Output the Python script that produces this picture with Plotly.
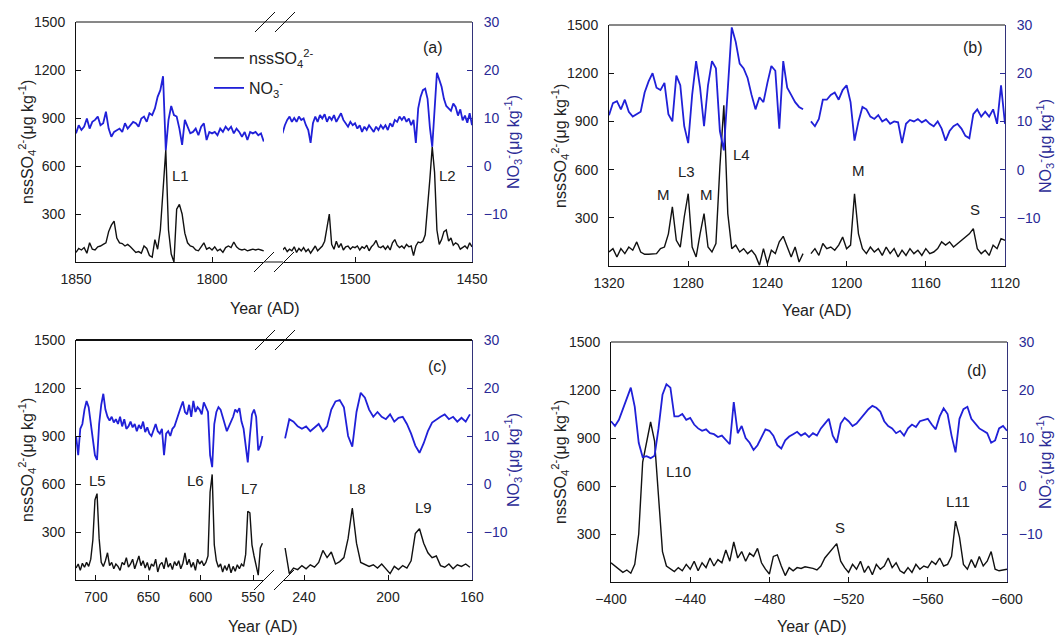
import plotly.graph_objects as go

W, H = 1060, 636
def px(x): return x / W
def py(y): return 1 - y / H

# ---------------- data ----------------
# Panel (a) left segment: 1850 -> 1781 AD, yearly
a1_years = list(range(1850, 1780, -1))
a1_so4 = [60, 85, 75, 90, 55, 120, 80, 75, 95, 100,
          110, 120, 190, 230, 255, 150, 120, 115, 100, 110,
          95, 80, 60, 65, 55, 100, 85, 40, 30, 140,
          80, 200, 450, 700, 200, 50, 0, 330, 360, 300,
          180, 120, 100, 95, 75, 70, 95, 120, 80, 90,
          75, 95, 70, 80, 60, 90, 100, 90, 125, 95,
          80, 75, 80, 70, 75, 80, 75, 80, 75, 70]
a1_no3 = [6.8, 8.5, 7.5, 8.2, 9.9, 7.8, 9.2, 9.6, 10.3, 8.5,
          8.9, 11.3, 7.8, 6.1, 7.1, 7.5, 7.8, 7.1, 8.9, 7.8,
          8.5, 9.2, 8.9, 8.2, 9.9, 10.3, 9.2, 11.0, 10.6, 12.0,
          14.4, 15.8, 18.7, 3.3, 9.6, 12.5, 10.6, 10.3, 7.8, 4.4,
          9.6, 8.2, 6.8, 7.1, 7.8, 6.4, 8.2, 8.9, 5.4, 7.1,
          6.8, 7.1, 6.4, 7.8, 7.1, 8.2, 7.5, 8.2, 6.8, 7.8,
          7.1, 6.1, 7.1, 5.4, 7.1, 6.8, 7.1, 6.4, 6.8, 5.1]

# Panel (a) right segment: 1531 -> 1450 AD, yearly
a2_years = list(range(1531, 1449, -1))
a2_so4 = [75, 90, 65, 80, 70, 95, 60, 85, 70, 90,
          65, 80, 55, 75, 100, 70, 85, 100, 130, 230,
          300, 110, 80, 130, 90, 115, 75, 95, 100, 80,
          95, 90, 100, 75, 95, 85, 105, 70, 95, 110,
          135, 95, 90, 100, 80, 100, 75, 120, 140, 105,
          90, 100, 85, 110, 95, 100, 40, 100, 125, 120,
          130, 170, 330, 520, 720, 560, 200, 110, 140, 190,
          200, 130, 150, 105, 120, 110, 80, 90, 100, 85,
          120, 95]
a2_no3 = [6.8, 8.5, 9.6, 10.3, 9.2, 10.0, 9.2, 10.3, 9.6, 9.9,
          8.5, 7.5, 4.8, 8.9, 10.3, 9.2, 10.6, 9.9, 10.8, 9.2,
          10.3, 9.6, 10.6, 9.2, 10.1, 11.0, 9.6, 8.9, 8.2, 9.2,
          8.5, 8.9, 7.8, 8.5, 7.1, 8.2, 7.5, 8.5, 7.8, 7.1,
          8.2, 7.5, 8.5, 7.8, 8.5, 7.5, 8.9, 8.2, 9.6, 9.2,
          10.3, 9.6, 10.3, 9.2, 9.9, 8.5, 9.6, 4.8, 12.0, 14.4,
          15.8, 16.1, 14.0, 8.0, 4.0, 13.0, 19.4, 18.0, 16.5, 14.0,
          12.5, 12.0, 11.5, 13.0, 12.3, 10.5, 11.8, 9.5, 10.5, 9.0,
          11.0, 8.5]

# Panel (b): 1320 -> 1120 AD, every 2 years
b_years = list(range(1320, 1119, -2))
b_so4 = [87, 108, 56, 108, 77, 118, 98, 150, 87, 73,
         73, 73, 77, 108, 118, 200, 368, 160, 118, 305,
         450, 118, 56, 200, 326, 118, 87, 140, 617, 1000,
         326, 108, 130, 87, 108, 77, 98, 66, 5, 108,
         15, 98, 77, 150, 185, 120, 56, 118, 25, 77,
         None, 77, 108, 66, 140, 108, 118, 98, 130, 180,
         108, 130, 450, 200, 108, 77, 118, 87, 108, 66,
         118, 77, 108, 56, 98, 66, 108, 77, 98, 66,
         108, 77, 87, 108, 150, 130, 150, 118, 140, 160,
         180, 200, 233, 108, 77, 98, 66, 130, 108, 170,
         160]
b_no3 = [11.3, 13.8, 14.2, 12.5, 14.5, 12.0, 11.0, 11.5, 12.0, 16.0,
         18.3, 20.0, 17.0, 16.5, 18.0, 11.5, 10.0, 19.5, 17.5, 9.0,
         5.5, 15.5, 22.5, 17.0, 9.0, 17.5, 22.5, 21.0, 8.0, 4.0,
         17.0, 29.5, 26.5, 22.0, 21.0, 19.0, 15.5, 12.5, 15.0, 14.0,
         18.0, 21.5, 20.5, 8.5, 22.5, 17.0, 15.5, 14.0, 13.0, 12.5,
         None, 10.0, 9.0, 10.5, 14.5, 14.5, 15.5, 16.0, 14.5, 16.5,
         17.5, 14.0, 6.0, 10.0, 13.0, 12.5, 11.0, 10.5, 11.3, 10.0,
         10.5, 9.5, 10.0, 9.8, 5.5, 9.5, 10.3, 10.0, 10.5, 9.8,
         10.3, 9.5, 9.0, 10.0, 8.5, 6.0, 8.0, 9.0, 9.5, 8.5,
         7.0, 6.5, 11.5, 12.5, 11.0, 12.0, 11.0, 12.5, 9.5, 17.5,
         9.5]

# Panel (c) left segment: 719 -> 541 AD, every 2 years
c1_years = list(range(719, 540, -2))
c1_so4 = [75, 100, 60, 105, 80, 110, 85, 130, 250, 500,
          540, 260, 110, 85, 120, 170, 90, 110, 70, 100,
          85, 60, 110, 95, 140, 80, 100, 130, 70, 110,
          150, 90, 120, 75, 110, 60, 100, 85, 130, 50,
          95, 110, 70, 140, 80, 105, 65, 115, 90, 120,
          70, 105, 170, 95, 130, 80, 110, 60, 130, 100,
          120, 90, 110, 150, 550, 660, 220, 120, 80, 100,
          50, 90, 60, 100, 45, 85, 55, 95, 70, 100,
          85, 160, 430, 420, 220, 150, 90, 30, 200, 230]
c1_no3 = [10.0, 6.0, 11.5, 12.5, 15.5, 17.3, 16.0, 13.0, 9.5, 6.0,
          5.0, 12.5, 16.5, 18.8, 15.5, 14.0, 13.2, 14.0, 12.8, 13.5,
          12.5, 14.0, 12.0, 13.5, 11.5, 12.0, 13.0, 11.8, 12.5, 11.0,
          12.3, 11.5, 13.0, 10.8, 11.8, 10.5, 10.0, 11.5, 12.5, 11.0,
          10.5, 11.5, 6.0, 10.5, 11.0, 10.0, 11.5, 12.0, 13.5, 14.5,
          16.0, 17.2, 15.0, 14.5, 16.5, 14.0, 17.3, 15.0, 16.0, 15.5,
          14.5, 17.0, 16.0, 15.0, 6.0, 3.5, 12.5, 15.0, 16.0, 15.5,
          14.0, 12.5, 11.0, 12.0, 13.0, 14.0, 15.5, 15.0, 15.8, 13.0,
          11.5, 8.5, 4.5, 10.0, 14.5, 15.5, 14.0, 7.0, 8.0, 10.0]

# Panel (c) right segment: 249 -> 161 AD, every 2 years
c2_years = list(range(249, 160, -2))
c2_so4 = [200, 40, 75, 65, 90, 70, 95, 80, 110, 185,
          140, 175, 100, 115, 140, 260, 450, 230, 110, 100,
          85, 95, 75, 100, 70, 40, 85, 65, 90, 75,
          120, 290, 320, 230, 170, 140, 150, 90, 80, 100,
          70, 95, 85, 100, 80]
c2_no3 = [9.5, 13.5, 13.0, 12.0, 11.5, 12.0, 11.0, 11.8, 12.5, 11.0,
          12.0, 15.5, 17.2, 17.5, 16.0, 10.0, 7.8, 15.0, 19.0, 18.0,
          15.5, 14.0, 15.0, 14.0, 13.5, 14.5, 13.0, 13.8, 14.0, 12.5,
          10.5, 8.0, 6.5, 8.5, 11.0, 12.8, 13.5, 14.0, 14.5, 13.5,
          14.0, 13.0, 13.8, 13.0, 14.5]

# Panel (d): -400 -> -600 AD, every 2 years
d_years = list(range(-400, -601, -2))
d_so4 = [120, 100, 85, 60, 75, 55, 110, 300, 750, 880,
         1000, 880, 500, 190, 100, 85, 65, 90, 70, 110,
         80, 130, 70, 120, 90, 150, 100, 140, 120, 200,
         130, 250, 150, 190, 130, 180, 160, 210, 120, 80,
         50, 160, 170, 100, 40, 90, 70, 90, 85, 95,
         90, 85, 75, 100, 150, 180, 210, 240, 130, 90,
         60, 110, 80, 130, 60, 100, 45, 110, 80, 100,
         150, 90, 120, 70, 55, 90, 60, 110, 80, 100,
         90, 130, 110, 150, 100, 110, 160, 380, 280, 110,
         80, 140, 90, 160, 100, 130, 190, 80, 70, 75,
         80]
d_no3 = [13.5, 12.5, 13.8, 16.0, 18.0, 20.5, 16.5, 9.0, 6.0, 6.2,
         5.8, 6.3, 12.0, 19.0, 21.2, 20.5, 14.5, 14.5, 15.0, 13.8,
         14.2, 12.8, 12.0, 11.5, 11.8, 11.0, 10.8, 10.2, 10.5, 9.5,
         8.7, 17.5, 11.0, 12.5, 10.0, 9.0, 7.5, 8.5, 10.0, 11.8,
         11.5, 10.5, 8.5, 7.8, 9.5, 10.3, 10.8, 11.3, 10.5, 11.0,
         10.2, 11.0, 10.5, 12.0, 13.0, 14.0, 10.5, 9.0, 13.0, 14.2,
         13.5, 12.5, 13.0, 14.0, 15.0, 16.0, 16.7, 16.3, 15.5, 13.5,
         12.5, 12.0, 11.0, 11.5, 10.5, 12.0, 12.8, 12.3, 13.5, 13.8,
         14.0, 12.8, 11.8, 14.5, 16.2, 15.0, 10.5, 7.0, 14.0, 16.0,
         16.5, 14.0, 13.0, 12.0, 11.5, 11.0, 9.0, 9.5, 12.0, 12.5,
         11.5]

so4_ticks = [300, 600, 900, 1200, 1500]
no3_ticks = [-10, 0, 10, 20, 30]

# ---------------- styling ----------------
FONT = "Liberation Sans, Arial, sans-serif"
BLACK = "#111111"
BLUE = "#2020d8"
NAVY = "#2a2a96"
TXT = "#222222"

fig = go.Figure()

def add_pair(years, so4, no3, xa, ya_l, ya_r, legend=False):
    fig.add_trace(go.Scatter(x=years, y=no3, xaxis=xa, yaxis=ya_r, mode="lines",
                             line=dict(color=BLUE, width=1.8), connectgaps=False,
                             name="NO<sub>3</sub><sup>-</sup>", showlegend=legend,
                             legend="legend2"))
    fig.add_trace(go.Scatter(x=years, y=so4, xaxis=xa, yaxis=ya_l, mode="lines",
                             line=dict(color=BLACK, width=1.4), connectgaps=False,
                             name="nssSO<sub>4</sub><sup>2-</sup>", showlegend=legend,
                             legend="legend"))

add_pair(a1_years, a1_so4, a1_no3, "x", "y", "y2", legend=True)
add_pair(a2_years, a2_so4, a2_no3, "x2", "y", "y2")
add_pair(b_years, b_so4, b_no3, "x3", "y3", "y4")
add_pair(c1_years, c1_so4, c1_no3, "x4", "y5", "y6")
add_pair(c2_years, c2_so4, c2_no3, "x5", "y5", "y6")
add_pair(d_years, d_so4, d_no3, "x6", "y7", "y8")

tickfont = dict(family=FONT, size=14, color=TXT)

def xax(domain, rng, tickvals, anchor):
    return dict(domain=[px(domain[0]), px(domain[1])], range=rng, anchor=anchor,
                tickvals=tickvals, ticks="inside", ticklen=5, tickcolor=BLACK,
                showline=True, linecolor=BLACK, linewidth=1, showgrid=False,
                zeroline=False, tickfont=tickfont, automargin=False,
                ticklabelstandoff=4)

def yleft(domain, anchor):
    return dict(domain=[py(domain[1]), py(domain[0])], range=[0, 1500], anchor=anchor,
                tickvals=so4_ticks, ticks="inside", ticklen=5, tickcolor=BLACK,
                showline=True, linecolor=BLACK, linewidth=1, showgrid=False,
                zeroline=False, tickfont=tickfont, ticklabelstandoff=7, automargin=False)

def yright(over, anchor):
    return dict(overlaying=over, side="right", anchor=anchor, range=[-20, 30],
                tickvals=no3_ticks, ticks="inside", ticklen=5, tickcolor=NAVY,
                showline=True, linecolor="#33337a", linewidth=1, showgrid=False,
                zeroline=False, tickfont=dict(family=FONT, size=14, color=NAVY),
                ticklabelstandoff=8, automargin=False)

fig.update_layout(
    xaxis=xax((76, 264), [1850, 1780.9], [1850, 1800], "y"),
    xaxis2=xax((283, 472), [1530.8, 1450], [1500, 1450], "y"),
    yaxis=yleft((22, 262), "x"),
    yaxis2=yright("y", "x2"),
    xaxis3=xax((609, 1005), [1320, 1120], [1320, 1280, 1240, 1200, 1160, 1120], "y3"),
    yaxis3=yleft((25, 266), "x3"),
    yaxis4=yright("y3", "x3"),
    xaxis4=xax((76, 264), [719.1, 539.5], [700, 650, 600, 550], "y5"),
    xaxis5=xax((283, 472), [250, 160], [240, 200, 160], "y5"),
    yaxis5=yleft((340, 580), "x4"),
    yaxis6=yright("y5", "x5"),
    xaxis6=xax((611, 1007), [-400, -600], [-400, -440, -480, -520, -560, -600], "y7"),
    yaxis7=yleft((342, 582), "x6"),
    yaxis8=yright("y7", "x6"),
)

# frame lines, axis-break marks
shapes = []
def seg(x0, y0, x1, y1, color=BLACK, width=1):
    shapes.append(dict(type="line", xref="paper", yref="paper",
                       x0=px(x0), y0=py(y0), x1=px(x1), y1=py(y1),
                       line=dict(color=color, width=width)))

seg(76, 22, 472, 22)
seg(609, 25, 1005, 25)
seg(76, 340, 472, 340, width=2)
seg(611, 342, 1007, 342)
seg(264, 262, 283, 262)
for (yt, yb) in [(22, 262), (340, 580)]:
    for x0 in (255, 275):
        seg(x0, yt + 10, x0 + 20, yt - 10)
        seg(x0 - 1, yb + 10, x0 + 19, yb - 10)
fig.update_layout(shapes=shapes)

# annotations
ann = []
def text(x, y, s, size=16, color=TXT, angle=0):
    ann.append(dict(x=px(x), y=py(y), xref="paper", yref="paper", text=s,
                    showarrow=False, xanchor="center", yanchor="middle",
                    textangle=angle, font=dict(family=FONT, size=size, color=color)))

left_title = "nssSO<sub>4</sub><sup>2-</sup>(μg kg<sup>-1</sup>)"
right_title = "NO<sub>3</sub><sup>-</sup>(μg kg<sup>-1</sup>)"
for (xl, xr, yc) in [(27, 513, 142), (560, 1045, 146), (27, 513, 460), (560, 1045, 462)]:
    text(xl, yc, left_title, angle=-90)
    text(xr, yc, right_title, color=NAVY, angle=-90)
for (x, y) in [(265, 308), (817, 310), (263, 626), (812, 626)]:
    text(x, y, "Year (AD)")
for (x, y, s) in [(433, 47, "(a)"), (973, 47, "(b)"), (437, 366, "(c)"), (977, 370, "(d)")]:
    text(x, y, s)
peaks = [(180, 175, "L1"), (447, 175, "L2"),
         (663, 194, "M"), (686, 172, "L3"), (706, 194, "M"), (741, 154, "L4"),
         (858, 170, "M"), (975, 209, "S"),
         (97, 480, "L5"), (195, 480, "L6"), (249, 488, "L7"), (357, 488, "L8"), (423, 507, "L9"),
         (678, 472, "L10"), (840, 527, "S"), (958, 501, "L11")]
for (x, y, s) in peaks:
    text(x, y, s, size=15)
fig.update_layout(annotations=ann)

fig.update_layout(
    width=W, height=H, margin=dict(l=0, r=0, t=0, b=0, pad=0, autoexpand=False),
    paper_bgcolor="white", plot_bgcolor="white",
    font=dict(family=FONT, size=14, color=TXT),
    legend=dict(x=px(209), y=py(58), xanchor="left", yanchor="middle",
                bgcolor="rgba(0,0,0,0)", font=dict(family=FONT, size=16, color=TXT)),
    legend2=dict(x=px(209), y=py(88), xanchor="left", yanchor="middle",
                 bgcolor="rgba(0,0,0,0)", font=dict(family=FONT, size=16, color=TXT)),
)

fig.write_html("out.html", config={"displayModeBar": False},
               post_script="document.body.style.margin='0';")
